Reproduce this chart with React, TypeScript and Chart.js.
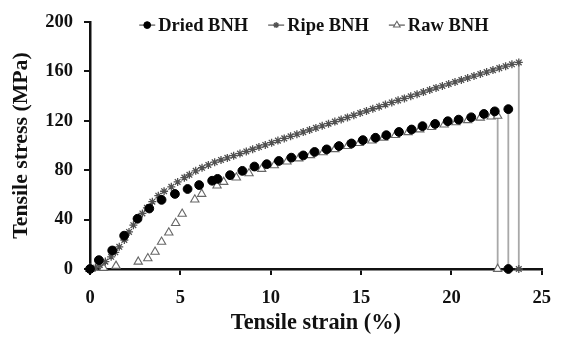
import React, { useEffect, useRef } from "react";
import { Chart, registerables } from "chart.js";
import * as helpers from "chart.js/helpers";

Chart.register(...registerables);

// Stress-strain curves for banana (BNH) samples; last pair of each list is the fracture drop.
const seriesNames = ["Dried BNH", "Ripe BNH", "Raw BNH"];

const driedStrain = [0, 0.49, 1.23, 1.89, 2.63, 3.28, 3.96, 4.7, 5.4, 6.04, 6.76, 7.06, 7.75, 8.43, 9.1, 9.78, 10.45, 11.14, 11.8, 12.43, 13.1, 13.78, 14.47, 15.1, 15.8, 16.4, 17.1, 17.8, 18.4, 19.1, 19.8, 20.4, 21.1, 21.8, 22.4, 23.15, 23.15];
const driedStress = [0, 7.2, 15, 27, 40.7, 49, 56, 60.8, 64.8, 68, 71.5, 73, 76, 79.5, 83, 84.9, 87.5, 90.2, 92, 94.8, 96.9, 99.6, 101.7, 104.4, 106.3, 108.4, 111, 113, 115.7, 117.5, 119.7, 121, 122.9, 125.6, 127.7, 129.5, 0];

const ripeStrain = [0, 0.3, 0.54, 0.85, 1.17, 1.4, 1.62, 1.9, 2.16, 2.4, 2.6, 2.9, 3.15, 3.45, 3.78, 4.1, 4.5, 4.85, 5.22, 5.5, 5.85, 6.2, 6.55, 6.9, 7.25, 7.6, 7.95, 8.3, 8.65, 9.0, 9.35, 9.7, 10.05, 10.4, 10.75, 11.1, 11.45, 11.8, 12.15, 12.5, 12.85, 13.2, 13.55, 13.9, 14.25, 14.6, 14.95, 15.3, 15.65, 16.0, 16.35, 16.7, 17.05, 17.4, 17.75, 18.1, 18.45, 18.8, 19.15, 19.5, 19.85, 20.2, 20.55, 20.9, 21.25, 21.6, 21.95, 22.3, 22.65, 23.0, 23.35, 23.73, 23.73];
const ripeStress = [0, 1.2, 3.2, 6, 9.9, 13.5, 18, 23.5, 30, 35.5, 40.7, 45, 49.5, 54.5, 59.4, 63, 66.6, 70.5, 74, 76.3, 79.5, 82, 84.3, 86.5, 88.3, 90, 91.8, 93.5, 95.2, 97, 98.8, 100.5, 102.3, 104, 105.8, 107.5, 109.2, 110.9, 112.6, 114.3, 116, 117.7, 119.4, 121.1, 122.8, 124.5, 126.3, 128, 129.8, 131.5, 133.2, 134.9, 136.6, 138.2, 139.9, 141.6, 143.3, 145, 146.7, 148.3, 149.9, 151.5, 153.1, 154.7, 156.3, 157.9, 159.5, 161.1, 162.7, 164.3, 165.8, 167.3, 0];

const rawStrain = [0, 0.75, 1.44, 2.67, 3.2, 3.6, 3.96, 4.36, 4.74, 5.1, 5.8, 6.18, 7.03, 7.4, 8.1, 8.8, 9.5, 10.2, 10.9, 11.55, 12.2, 12.9, 13.55, 14.25, 14.9, 15.6, 16.25, 16.9, 17.6, 18.25, 18.9, 19.6, 20.25, 20.9, 21.6, 22.2, 22.56, 22.56];
const rawStress = [0, 0.8, 2.5, 5.9, 8.6, 13.9, 22, 29.5, 37.2, 44.7, 56.2, 60.8, 67.5, 70.5, 74, 77.5, 81, 84, 87, 89.5, 92.2, 94.5, 97, 99.5, 102, 104, 106.3, 108.5, 110.8, 113, 115, 117, 118.8, 120.5, 122.5, 123.5, 124, 0];

const xTicks = [0, 5, 10, 15, 20, 25];
const yTicks = [0, 40, 80, 120, 160, 200];

const FONT = '"Liberation Serif", "Times New Roman", serif';
const INK = "#111";
const DROP = "#a8a8a8";

const pairs = (xs: number[], ys: number[]) => xs.map((x, i) => ({ x, y: ys[i] }));

// Only the final segment (the fracture drop to zero) is stroked.
const dropOnly = (count: number) => ({
  borderColor: (ctx: any) => (ctx.p1DataIndex === count - 1 ? DROP : "rgba(0,0,0,0)"),
});

const markerStyles = [
  { pointStyle: "circle", radius: 4.4, fill: "#000", stroke: "#000", width: 1 },
  { pointStyle: "star", radius: 4, fill: "#fff", stroke: "#505050", width: 1.3 },
  { pointStyle: "triangle", radius: 4.8, fill: "#fff", stroke: "#666", width: 1.1 },
];

const topLegend = {
  id: "topLegend",
  afterDraw(chart: any) {
    const { ctx, chartArea } = chart;
    ctx.save();
    ctx.font = `bold 18.5px ${FONT}`;
    ctx.textBaseline = "middle";
    const iconW = 16;
    const iconGap = 3;
    const itemGap = 20;
    const widths = seriesNames.map((n) => ctx.measureText(n).width);
    const total = widths.reduce((a, w) => a + iconW + iconGap + w, 0) + itemGap * (seriesNames.length - 1);
    let x = (chartArea.left + chartArea.right) / 2 - total / 2 - 2;
    const y = chartArea.top + 3;
    seriesNames.forEach((name, i) => {
      const m = markerStyles[i];
      ctx.strokeStyle = "#555";
      ctx.lineWidth = 1.2;
      ctx.beginPath();
      ctx.moveTo(x, y);
      ctx.lineTo(x + iconW, y);
      ctx.stroke();
      ctx.fillStyle = m.fill;
      ctx.strokeStyle = m.stroke;
      ctx.lineWidth = m.width;
      helpers.drawPoint(ctx, { pointStyle: m.pointStyle, radius: m.radius - 1, rotation: 0, borderWidth: m.width }, x + iconW / 2, y);
      ctx.fillStyle = INK;
      ctx.fillText(name, x + iconW + iconGap, y + 1);
      x += iconW + iconGap + widths[i] + itemGap;
    });
    ctx.restore();
  },
};

export default function App() {
  const canvasRef = useRef<HTMLCanvasElement | null>(null);

  useEffect(() => {
    const canvas = canvasRef.current;
    if (!canvas) return;

    const series = [
      [driedStrain, driedStress],
      [ripeStrain, ripeStress],
      [rawStrain, rawStress],
    ];

    const datasets = series.map(([xs, ys], i) => {
      const m = markerStyles[i];
      return {
        label: seriesNames[i],
        data: pairs(xs, ys),
        showLine: true,
        borderColor: DROP,
        borderWidth: 1.8,
        segment: dropOnly(xs.length),
        pointStyle: m.pointStyle,
        pointRadius: m.radius,
        pointBackgroundColor: m.fill,
        pointBorderColor: m.stroke,
        pointBorderWidth: m.width,
        clip: false,
      };
    });

    const chart = new Chart(canvas, {
      type: "scatter",
      data: { datasets } as any,
      options: {
        animation: false,
        responsive: false,
        devicePixelRatio: 1,
        events: [],
        layout: { padding: { top: 20, right: 11, bottom: 0, left: 0 } },
        plugins: { legend: { display: false }, tooltip: { enabled: false } },
        scales: {
          x: {
            type: "linear",
            min: xTicks[0],
            max: xTicks[xTicks.length - 1],
            afterBuildTicks: (s: any) => {
              s.ticks = xTicks.map((v) => ({ value: v }));
            },
            ticks: { color: INK, font: { family: FONT, size: 18.5, weight: "bold" }, padding: 12 },
            grid: { drawOnChartArea: false, drawTicks: true, tickLength: 6, color: INK, lineWidth: 2 },
            border: { display: true, color: INK, width: 2.5 },
            title: {
              display: true,
              text: "Tensile strain (%)",
              color: INK,
              font: { family: FONT, size: 22.3, weight: "bold" },
              padding: { top: 0, bottom: 0 },
            },
            afterFit: (s: any) => {
              s.height = 68;
            },
          },
          y: {
            type: "linear",
            min: yTicks[0],
            max: yTicks[yTicks.length - 1],
            afterBuildTicks: (s: any) => {
              s.ticks = yTicks.map((v) => ({ value: v }));
            },
            ticks: { color: INK, font: { family: FONT, size: 18.5, weight: "bold" }, padding: 11 },
            grid: { drawOnChartArea: false, drawTicks: true, tickLength: 6, color: INK, lineWidth: 2 },
            border: { display: true, color: INK, width: 2.5 },
            title: {
              display: true,
              text: "Tensile stress (MPa)",
              color: INK,
              font: { family: FONT, size: 21.8, weight: "bold" },
              padding: { top: 8, bottom: 0 },
            },
            afterFit: (s: any) => {
              s.width = 90;
            },
          },
        },
      } as any,
      plugins: [topLegend],
    });

    return () => chart.destroy();
  }, []);

  return (
    <div style={{ position: "fixed", left: 0, top: 0, width: 563, height: 337, background: "#fff" }}>
      <canvas ref={canvasRef} width={563} height={337} style={{ display: "block" }} />
    </div>
  );
}
